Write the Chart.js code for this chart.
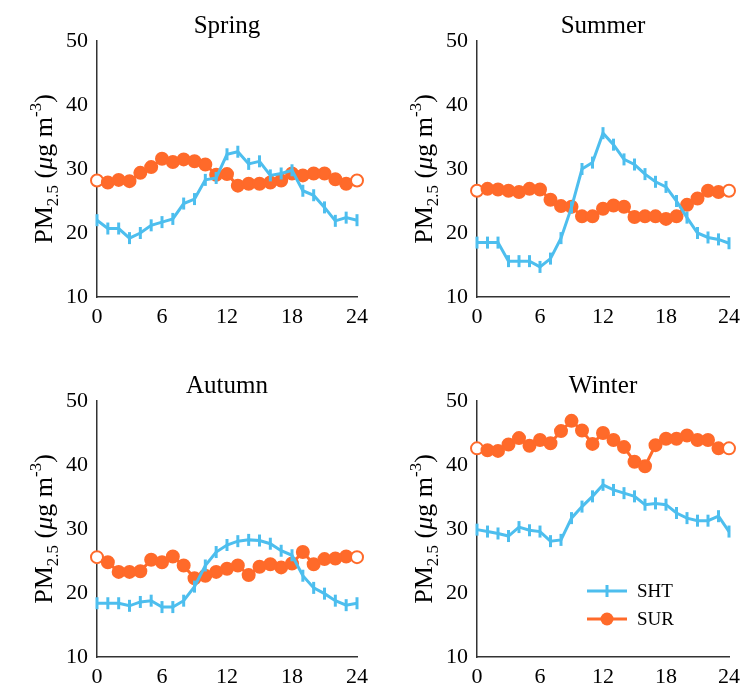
<!DOCTYPE html>
<html><head><meta charset="utf-8">
<script src="https://cdn.jsdelivr.net/npm/chart.js@4"></script>
<style>
body{margin:0;background:#fff;width:742px;height:695px;position:relative;overflow:hidden}
canvas{position:absolute}
</style></head><body>
<canvas id="c0" style="left:0;top:0"></canvas>
<canvas id="c1" style="left:380px;top:0"></canvas>
<canvas id="c2" style="left:0;top:360px"></canvas>
<canvas id="c3" style="left:380px;top:360px"></canvas>
<script>
const hours = Array.from({length: 25}, (_, i) => i);
const seasons = ["Spring", "Summer", "Autumn", "Winter"];
const shtSpring = [22,20.7,20.7,19.2,20,21.2,21.7,22.2,24.6,25.3,28.3,28.6,32.3,32.7,30.8,31.2,29,29.3,29.8,26.6,25.9,24,21.9,22.4,22];
const surSpring = [28.2,27.9,28.3,28.1,29.4,30.3,31.6,31.1,31.5,31.2,30.7,29.1,29.2,27.4,27.7,27.7,27.9,28.2,29.3,29,29.3,29.3,28.4,27.7,28.2];
const shtSummer = [18.5,18.5,18.5,15.6,15.6,15.6,14.7,16,19.2,24,30,31,35.6,33.8,31.5,30.7,29.2,28,27.2,25,22.4,20,19.3,19,18.4];
const surSummer = [26.6,26.9,26.8,26.6,26.4,26.9,26.8,25.2,24.2,24.1,22.6,22.6,23.8,24.3,24.1,22.5,22.6,22.6,22.2,22.6,24.4,25.4,26.6,26.4,26.6];
const shtAutumn = [18.4,18.4,18.4,18.0,18.6,18.8,17.8,17.8,18.8,21,24.3,26.4,27.5,28.1,28.3,28.2,27.7,26.6,25.9,22.7,20.8,19.9,18.8,18.1,18.4];
const surAutumn = [25.6,24.8,23.3,23.3,23.4,25.2,24.8,25.7,24.3,22.3,22.7,23.3,23.8,24.3,22.8,24.1,24.5,24,24.6,26.4,24.5,25.3,25.4,25.7,25.6];
const shtWinter = [29.9,29.6,29.3,28.9,30.3,29.8,29.6,28.1,28.3,31.7,33.5,35.1,36.9,36.1,35.6,35.1,33.8,34.0,33.8,32.5,31.7,31.3,31.3,32.0,29.6];
const surWinter = [42.6,42.3,42.2,43.2,44.2,43.0,43.9,43.4,45.3,46.9,45.4,43.3,45.0,43.9,42.8,40.5,39.8,43.1,44.1,44.1,44.6,43.9,43.9,42.6,42.6];
const shtAll = [shtSpring, shtSummer, shtAutumn, shtWinter];
const surAll = [surSpring, surSummer, surAutumn, surWinter];

const SHT_COLOR = '#4DBEEE', SUR_COLOR = '#FF6A2A';
const FONT = '"Liberation Serif", "Times New Roman", serif';

// panel sizes: [width, height, right padding, x-axis height]
const dims = [[371, 347, 14, 50], [362, 347, 13, 50], [371, 335, 14, 38], [362, 335, 13, 38]];

// title + y label + legend drawn by hand
const decor = {
  id: 'decor',
  afterDraw(chart, args, opts) {
    const c = chart.ctx, a = chart.chartArea;
    c.save();
    c.fillStyle = '#000';
    c.font = '25px ' + FONT;
    c.textAlign = 'center';
    c.textBaseline = 'alphabetic';
    c.fillText(opts.title, (a.left + a.right) / 2, 33);
    // y label
    c.translate(44, (a.top + a.bottom) / 2);
    c.rotate(-Math.PI / 2);
    const parts = [
      ['PM', '26px ' + FONT, 0], ['2.5', '17px ' + FONT, 6], [' (', '26px ' + FONT, 0],
      ['\u03bc', 'italic 26px ' + FONT, 0], ['g m', '26px ' + FONT, 0], ['-3', '17px ' + FONT, -11], [')', '26px ' + FONT, 0]
    ];
    let w = 0;
    parts.forEach(p => { c.font = p[1]; w += c.measureText(p[0]).width; });
    let x = -w / 2;
    c.textAlign = 'left';
    parts.forEach(p => { c.font = p[1]; c.fillText(p[0], x, 8 + p[2]); x += c.measureText(p[0]).width; });
    c.restore();
    if (opts.legend) {
      c.save();
      chart.data.datasets.forEach((ds, i) => {
        const y = a.top + 190 + i * 28, x0 = a.left + 110;
        c.strokeStyle = ds.borderColor; c.lineWidth = 3;
        c.beginPath(); c.moveTo(x0, y); c.lineTo(x0 + 40, y); c.stroke();
        if (i === 0) {
          c.beginPath(); c.moveTo(x0 + 20, y - 6); c.lineTo(x0 + 20, y + 6); c.stroke();
        } else {
          c.fillStyle = ds.borderColor;
          c.beginPath(); c.arc(x0 + 20, y, 6.5, 0, Math.PI * 2); c.fill();
        }
        c.fillStyle = '#000'; c.font = '19px ' + FONT; c.textBaseline = 'middle';
        c.fillText(ds.label, x0 + 50, y + 1);
      });
      c.restore();
    }
  }
};

seasons.forEach((name, k) => {
  const [w, h, pr, xh] = dims[k];
  const cv = document.getElementById('c' + k);
  cv.width = w; cv.height = h;
  new Chart(cv, {
    type: 'line',
    data: {
      labels: hours,
      datasets: [
        { label: 'SHT', data: shtAll[k], borderColor: SHT_COLOR, backgroundColor: SHT_COLOR, borderWidth: 3,
          pointStyle: 'line', rotation: 90, pointRadius: 6, pointBorderWidth: 3, tension: 0, clip: false },
        { label: 'SUR', data: surAll[k], borderColor: SUR_COLOR, borderWidth: 3,
          pointBackgroundColor: hours.map(i => (i === 24 || i === 0) ? '#fff' : SUR_COLOR),
          pointStyle: 'circle', pointRadius: 6, pointBorderWidth: 2, tension: 0, clip: false }
      ]
    },
    options: {
      responsive: false, animation: false,
      layout: { padding: { top: 41, right: pr, left: 0, bottom: 0 } },
      plugins: { legend: { display: false }, tooltip: { enabled: false }, decor: { title: name, legend: k === 3 } },
      scales: {
        x: {
          type: 'linear', min: 0, max: 24,
          ticks: { stepSize: 6, color: '#000', font: { family: FONT, size: 22 }, padding: 2 },
          grid: { display: false, drawTicks: true, tickLength: 5, tickColor: '#333' },
          border: { color: '#333', width: 1.5 },
          afterFit: s => { s.height = xh; }
        },
        y: {
          min: 10, max: 50,
          ticks: { stepSize: 10, color: '#000', font: { family: FONT, size: 22 }, padding: 4 },
          grid: { display: false, drawTicks: true, tickLength: 5, tickColor: '#333' },
          border: { color: '#333', width: 1.5 },
          afterFit: s => { s.width = 97; }
        }
      }
    },
    plugins: [decor]
  });
});
</script>
</body></html>
